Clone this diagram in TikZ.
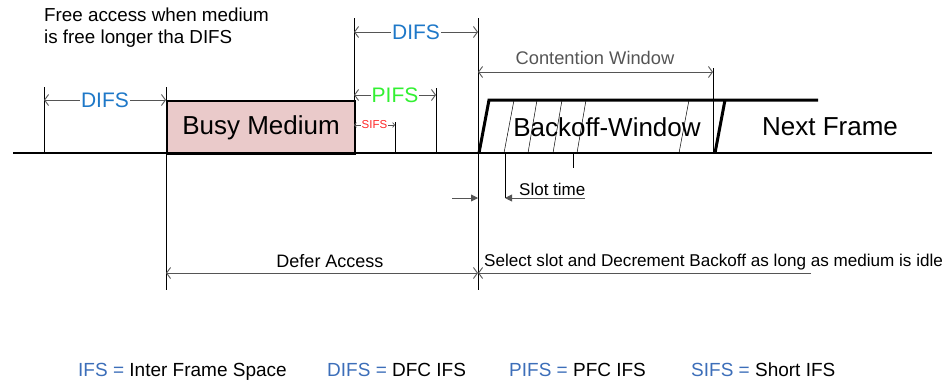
\documentclass[tikz,border=0pt]{standalone}
\usepackage{fontspec}
\setmainfont{Liberation Sans}
\usetikzlibrary{arrows.meta}
\definecolor{difsblue}{RGB}{30,120,200}
\definecolor{pifsgreen}{RGB}{50,240,50}
\definecolor{sifsred}{RGB}{255,40,40}
\definecolor{busyfill}{RGB}{234,202,202}
\definecolor{dimgray}{RGB}{85,85,85}
\definecolor{legblue}{RGB}{60,110,185}
\newcommand{\fs}[1]{\fontsize{#1}{#1}\selectfont}
\begin{document}
\begin{tikzpicture}[x=1pt,y=-1pt,
  dimline/.style={draw=dimgray, line width=0.9pt,
    {Straight Barb[length=4pt,width=11pt]}-{Straight Barb[length=4pt,width=11pt]}},
  tickline/.style={draw=black, line width=0.8pt},
  hatchline/.style={draw=black, line width=0.5pt},
  thickline/.style={draw=black, line width=3pt},
  slotarrow/.style={draw=dimgray, line width=0.9pt, -{Triangle[length=7pt,width=7pt]}},
  dimlabel/.style={midway, fill=white, inner sep=1pt},
  bigtext/.style={font=\fs{26}, inner sep=0pt},
  legend/.style={anchor=base west, inner sep=0pt, font=\fs{19}}
]
\useasboundingbox (0,0) rectangle (947,380);

% coordinates
\coordinate (lineL) at (13,153);
\coordinate (lineR) at (932,153);

% busy medium
\node[draw, line width=2pt, fill=busyfill, minimum width=188pt, minimum height=53pt,
      anchor=north west, inner sep=0pt, font=\fs{26}] (busy) at (166,100) {Busy Medium};

% vertical ticks
\coordinate (t1top) at (44,87);   \coordinate (t1bot) at (44,153);
\coordinate (t2top) at (166,87);  \coordinate (t2bot) at (166,290);
\coordinate (t3top) at (354,18);  \coordinate (t3bot) at (354,100);
\coordinate (t4top) at (436,88);  \coordinate (t4bot) at (436,153);
\coordinate (t5top) at (395,122); \coordinate (t5bot) at (395,153);
\coordinate (t6top) at (478,18);  \coordinate (t6bot) at (478,290);
\coordinate (t7top) at (713,68);  \coordinate (t7bot) at (713,153);
\coordinate (t8top) at (573,153); \coordinate (t8bot) at (573,168);
\coordinate (t9top) at (505,153); \coordinate (t9bot) at (505,198);
\draw[tickline] (t1top) -- (t1bot);
\draw[tickline] (t2top) -- (t2bot);
\draw[tickline] (t3top) -- (t3bot);
\draw[tickline] (t4top) -- (t4bot);
\draw[tickline] (t5top) -- (t5bot);
\draw[tickline] (t6top) -- (t6bot);
\draw[tickline] (t7top) -- (t7bot);
\draw[tickline] (t8top) -- (t8bot);
\draw[tickline] (t9top) -- (t9bot);

% backoff hatches
\foreach \a/\b [count=\i] in {504/514, 528/537, 553/562, 577/586, 679/689}{
  \coordinate (hb\i) at (\a,153);
  \coordinate (ht\i) at (\b,100);
  \draw[hatchline] (hb\i) -- (ht\i);
}

% backoff window trapezoid
\coordinate (bo1) at (479,153);
\coordinate (bo2) at (489,100);
\coordinate (bo3) at (818,100);
\coordinate (bo4) at (715,153);
\coordinate (bo5) at (725,100);
\draw[thickline, line join=miter] (bo1) -- (bo2) -- (bo3);
\draw[thickline] (bo4) -- (bo5);

% baseline
\draw[line width=2.8pt] (lineL) -- (lineR);

\node[bigtext] (backoff) at (607,127) {Backoff-Window};
\node[bigtext] (next) at (830,127) {Next Frame};

% dimension arrows
\coordinate (d1a) at (44,100);  \coordinate (d1b) at (166,100);
\draw[dimline] (d1a) -- (d1b) node[dimlabel, text=difsblue, font=\fs{21}] (difs1) {DIFS};
\coordinate (d2a) at (354,32);  \coordinate (d2b) at (478,32);
\draw[dimline] (d2a) -- (d2b) node[dimlabel, text=difsblue, font=\fs{21}] (difs2) {DIFS};
\coordinate (d3a) at (354,95);  \coordinate (d3b) at (436,95);
\draw[dimline] (d3a) -- (d3b) node[dimlabel, text=pifsgreen, font=\fs{21}] (pifs) {PIFS};
\coordinate (d4a) at (354,125); \coordinate (d4b) at (395,125);
\draw[draw=dimgray, line width=0.7pt,
    {Straight Barb[length=2pt,width=5pt]}-{Straight Barb[length=2pt,width=5pt]}]
    (d4a) -- (d4b) node[dimlabel, inner sep=0.5pt, text=sifsred, font=\fs{11.5}] (sifs) {SIFS};
\coordinate (d5a) at (478,72);  \coordinate (d5b) at (713,72);
\draw[dimline] (d5a) -- (d5b);
\node[text=dimgray, font=\fs{18.3}, inner sep=0pt] (cw) at (595,58) {Contention Window};

% slot time
\coordinate (s1a) at (452,198); \coordinate (s1b) at (478,198);
\coordinate (s2a) at (585,198); \coordinate (s2b) at (505,198);
\draw[slotarrow] (s1a) -- (s1b);
\draw[slotarrow] (s2a) -- (s2b);
\node[anchor=base west, inner sep=0pt, font=\fs{17}] (slot) at (519,195.5) {Slot time};

% defer access
\coordinate (da) at (166,273); \coordinate (db) at (478,273);
\draw[dimline] (da) -- (db);
\node[font=\fs{18}, inner sep=0pt] (defer) at (330,261) {Defer Access};
\coordinate (sa) at (811,273);
\draw[draw=dimgray, line width=0.9pt, -{Straight Barb[length=4pt,width=11pt]}] (sa) -- (db);
\node[anchor=base west, inner sep=0pt, font=\fs{17.1}] (select) at (484,266) {Select slot and Decrement Backoff as long as medium is idle};

% free access text
\node[anchor=north west, inner sep=0pt, align=left, font=\fontsize{18.8}{22}\selectfont] (free) at (44,8)
  {Free access when medium\\is free longer tha DIFS};

% legend
\node[legend] (l1) at (78,376.5) {\textcolor{legblue}{IFS =} Inter Frame Space};
\node[legend] (l2) at (327,376.5) {\textcolor{legblue}{DIFS =} DFC IFS};
\node[legend] (l3) at (509,376.5) {\textcolor{legblue}{PIFS =} PFC IFS};
\node[legend] (l4) at (691,376.5) {\textcolor{legblue}{SIFS =} Short IFS};
\end{tikzpicture}
\end{document}
